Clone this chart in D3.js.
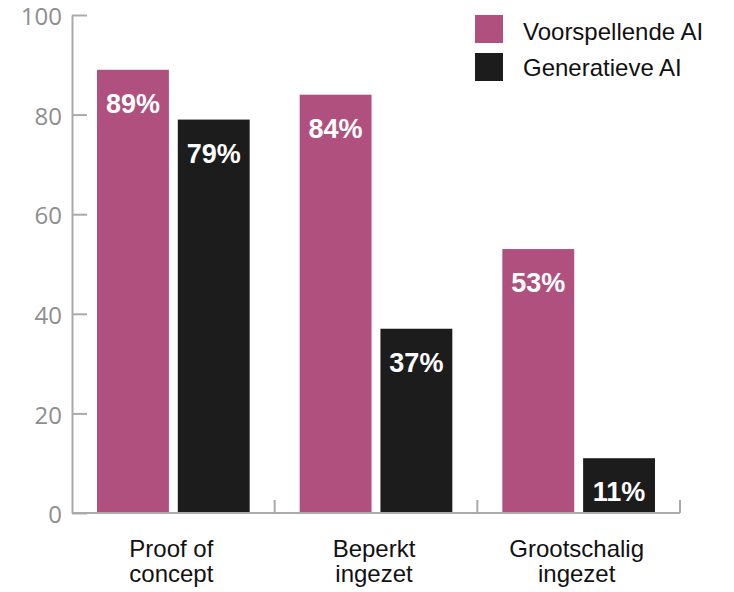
<!DOCTYPE html>
<html>
<head>
<meta charset="utf-8">
<script src="https://cdn.jsdelivr.net/npm/d3@7"></script>
<style>
  body { margin: 0; background: #fff; }
</style>
</head>
<body>
<div id="vis"></div>
<script>
const categories = ["Proof of concept", "Beperkt ingezet", "Grootschalig ingezet"];
const categoryLines = [["Proof of", "concept"], ["Beperkt", "ingezet"], ["Grootschalig", "ingezet"]];
const seriesNames = ["Voorspellende AI", "Generatieve AI"];
const predictive = [89, 84, 53];
const generative = [79, 37, 11];
const yTicks = [0, 20, 40, 60, 80, 100];

function drawChart(){
  const size = {width: 734, height: 592};
  const margin = {left: 72, right: 54, top: 15, bottom: 79};
  const colors = ["#b0507e", "#1c1c1c"];

  const svg = d3.select("#vis")
    .append("svg")
    .attr("viewBox", [0, 0, size.width, size.height])
    .style("width", `${size.width}px`)
    .style("height", `${size.height}px`);

  const y = d3.scaleLinear()
    .domain([0, 100])
    .range([size.height - margin.bottom, margin.top]);

  const x0 = d3.scaleBand()
    .domain(categories)
    .range([margin.left, size.width - margin.right])
    .padding(0);

  const x1 = d3.scaleBand()
    .domain(seriesNames)
    .range([25, x0.bandwidth() - 25])
    .paddingInner(0.11);

  const rows = categories.map((c, i) => ({cat: c, values: [predictive[i], generative[i]]}));

  const groups = svg.append("g")
    .selectAll("g")
    .data(rows)
    .join("g")
    .attr("transform", d => `translate(${x0(d.cat)},0)`);

  groups.selectAll("rect")
    .data(d => d.values.map((v, j) => ({s: seriesNames[j], v, j})))
    .join("rect")
    .attr("x", d => x1(d.s))
    .attr("y", d => y(d.v))
    .attr("width", x1.bandwidth())
    .attr("height", d => y(0) - y(d.v))
    .style("fill", d => colors[d.j]);

  groups.selectAll("text")
    .data(d => d.values.map((v, j) => ({s: seriesNames[j], v, j})))
    .join("text")
    .attr("x", d => x1(d.s) + x1.bandwidth() / 2)
    .attr("y", d => y(d.v) + 43)
    .attr("text-anchor", "middle")
    .style("font-family", "'Liberation Sans', Arial, sans-serif")
    .style("font-weight", "bold")
    .style("font-size", "27px")
    .style("fill", "#fff")
    .text(d => `${d.v}%`);

  // y axis
  const yAxis = svg.append("g")
    .attr("transform", `translate(${margin.left},0)`)
    .call(d3.axisLeft(y).tickValues(yTicks).tickSize(-15).tickSizeOuter(0).tickPadding(10));
  yAxis.select(".domain").attr("stroke", "#aaa").attr("stroke-width", 2);
  yAxis.selectAll(".tick line").attr("stroke", "#aaa").attr("stroke-width", 2);
  yAxis.selectAll(".tick text")
    .attr("dy", "0.4em")
    .style("font-family", "'Open Sans', sans-serif")
    .style("font-size", "24px")
    .style("fill", "#8e8e8e");

  // x axis
  const xAxis = svg.append("g")
    .attr("transform", `translate(0,${y(0)})`);
  xAxis.append("line")
    .attr("x1", x0.range()[0])
    .attr("x2", x0.range()[1])
    .attr("stroke", "#aaa")
    .attr("stroke-width", 2);
  xAxis.selectAll(".sep")
    .data(categories)
    .join("line")
    .attr("class", "sep")
    .attr("x1", d => x0(d) + x0.step())
    .attr("x2", d => x0(d) + x0.step())
    .attr("y1", 0)
    .attr("y2", -13)
    .attr("stroke", "#aaa")
    .attr("stroke-width", 2);

  const labels = svg.append("g")
    .selectAll("text")
    .data(categories)
    .join("text")
    .attr("text-anchor", "middle")
    .style("font-family", "'Liberation Sans', Arial, sans-serif")
    .style("font-size", "24px")
    .style("fill", "#111");
  labels.selectAll("tspan")
    .data((d, i) => categoryLines[i].map(t => ({t, c: d})))
    .join("tspan")
    .attr("x", d => x0(d.c) + x0.bandwidth() / 2 - 2)
    .attr("y", (d, k) => 557 + k * 25)
    .text(d => d.t);

  // legend
  const legend = svg.append("g")
    .selectAll("g")
    .data(seriesNames)
    .join("g")
    .attr("transform", (d, i) => `translate(475,${15 + i * 38})`);
  legend.append("rect")
    .attr("width", 28)
    .attr("height", 28)
    .style("fill", (d, i) => colors[i]);
  legend.append("text")
    .attr("x", 48)
    .attr("y", (d, i) => 25 - i * 2)
    .style("font-family", "'Liberation Sans', Arial, sans-serif")
    .style("font-size", "24px")
    .style("fill", "#111")
    .text(d => d);
}

drawChart();
</script>
</body>
</html>
